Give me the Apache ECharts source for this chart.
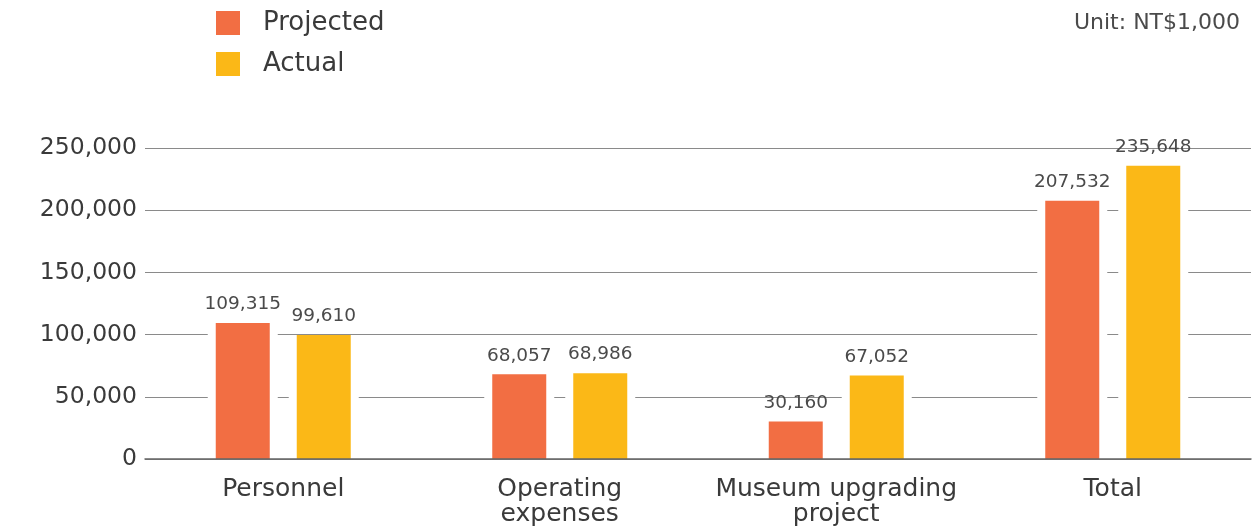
<html>
<head>
    <meta charset="utf-8">
    <title>Budget</title>
    <script src="https://cdn.jsdelivr.net/npm/echarts@6/dist/echarts.min.js"></script>
    <style>
        html, body { margin: 0; padding: 0; background: #fff; }
        #main { width: 1256px; height: 526px; }
    </style>
</head>
<body>
    <div id="main"></div>
    <script type="text/javascript">
        // data
        var categories = ['Personnel', 'Operating\nexpenses', 'Museum upgrading\nproject', 'Total'];
        var projected = [109315, 68057, 30160, 207532];
        var actual = [99610, 68986, 67052, 235648];
        var yTicks = [0, 50000, 100000, 150000, 200000, 250000];
        var unitText = 'Unit: NT$1,000';

        var colors = ['#F26E43', '#FBB817'];
        var font = '"DejaVu Sans"';
        var chart = echarts.init(document.getElementById('main'));

        function fmt(v) {
            return Number(v).toLocaleString('en-US');
        }

        // white bars behind the coloured ones cut the gridlines around each bar
        function gapSeries(data) {
            return {
                type: 'bar',
                xAxisIndex: 1,
                data: data,
                barWidth: 70,
                barGap: '15.7%',
                itemStyle: { color: '#fff' },
                silent: true,
                z: 1
            };
        }

        var option = {
            animation: false,
            color: colors,
            legend: {
                data: ['Projected', 'Actual'],
                orient: 'vertical',
                left: 211,
                top: 5,
                icon: 'rect',
                itemWidth: 24,
                itemHeight: 24,
                itemGap: 15,
                textStyle: {
                    fontFamily: font,
                    fontSize: 26,
                    color: '#3a3a3a',
                    padding: [0, 0, 0, 18]
                }
            },
            graphic: [{
                type: 'text',
                right: 16,
                top: 12,
                style: {
                    text: unitText,
                    fontFamily: font,
                    fontSize: 22,
                    fill: '#4a4a4a'
                }
            }],
            grid: {
                left: 145,
                right: 5,
                top: 148,
                bottom: 67,
                outerBoundsMode: 'none'
            },
            xAxis: [{
                type: 'category',
                data: categories,
                z: 5,
                axisTick: { show: false },
                axisLine: { lineStyle: { color: '#666', width: 1.5 } },
                axisLabel: {
                    fontFamily: font,
                    fontSize: 25,
                    color: '#3a3a3a',
                    lineHeight: 25,
                    margin: 18,
                    interval: 0
                }
            }, {
                type: 'category',
                data: categories,
                show: false
            }],
            yAxis: {
                type: 'value',
                min: yTicks[0],
                max: yTicks[yTicks.length - 1],
                interval: yTicks[1] - yTicks[0],
                axisLine: { show: false },
                axisTick: { show: false },
                splitLine: { lineStyle: { color: '#8a8a8a', width: 1.2 } },
                axisLabel: {
                    fontFamily: font,
                    fontSize: 23.5,
                    color: '#3a3a3a',
                    margin: 8,
                    formatter: fmt
                }
            },
            series: [
                gapSeries(projected),
                gapSeries(actual),
                {
                    name: 'Projected',
                    type: 'bar',
                    data: projected,
                    barWidth: 54,
                    barGap: '50%',
                    z: 3,
                    label: {
                        show: true,
                        position: 'top',
                        distance: 9,
                        fontFamily: font,
                        fontSize: 18.5,
                        color: '#4a4a4a',
                        formatter: function (p) { return fmt(p.value); }
                    }
                },
                {
                    name: 'Actual',
                    type: 'bar',
                    data: actual,
                    barWidth: 54,
                    barGap: '50%',
                    z: 3,
                    label: {
                        show: true,
                        position: 'top',
                        distance: 9,
                        fontFamily: font,
                        fontSize: 18.5,
                        color: '#4a4a4a',
                        formatter: function (p) { return fmt(p.value); }
                    }
                }
            ]
        };
        chart.setOption(option);
    </script>
</body>
</html>
